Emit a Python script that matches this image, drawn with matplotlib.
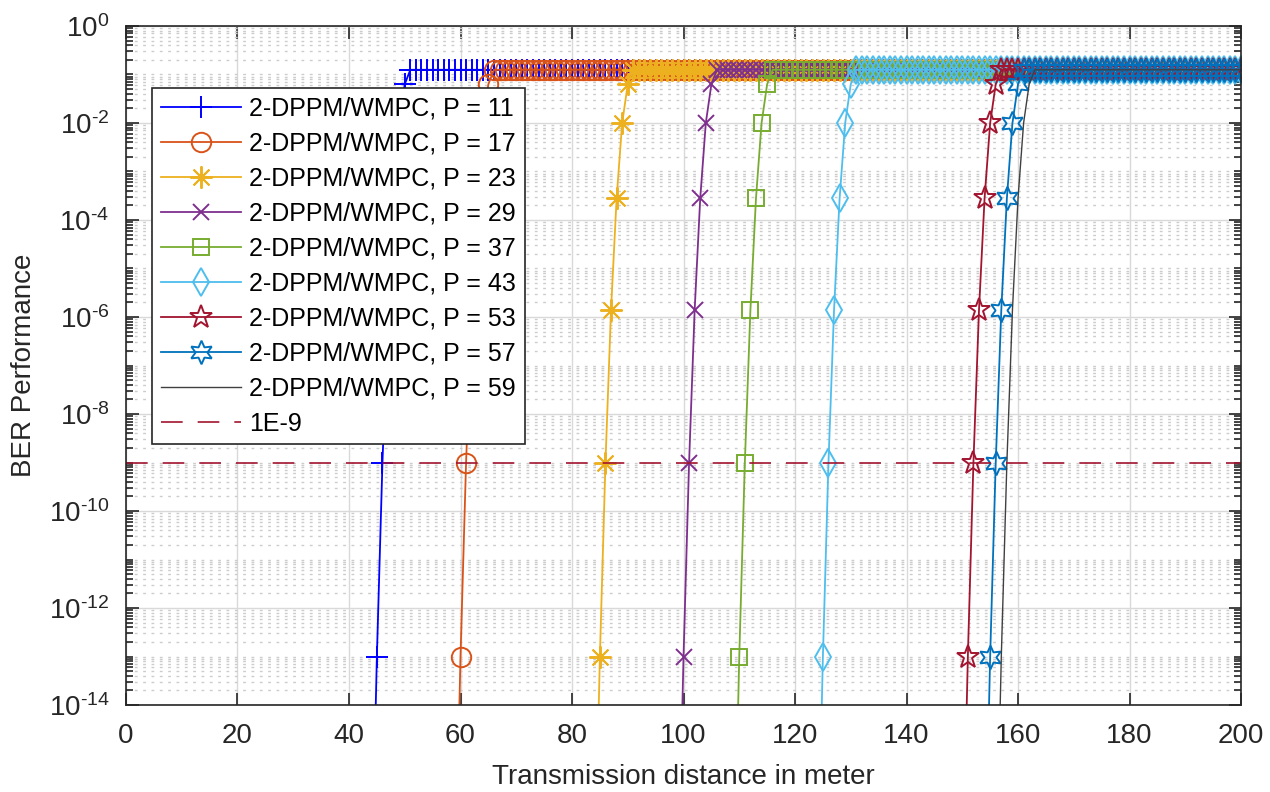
import numpy as np
import matplotlib
matplotlib.use("Agg")
import matplotlib.pyplot as plt
from matplotlib.ticker import FixedLocator, NullFormatter

# --- DATA ---
P_VALUES = [11, 17, 23, 29, 37, 43, 53, 57, 59]
# distance (m) where the BER curve passes 1e-13
ONSET_M = [45, 60, 85, 100, 110, 125, 151, 155, 157]
# log10(BER) at onset-1, onset, onset+1, ... onset+5
PROFILE_LOG = [-18.0, -13.0, -9.0, -5.85, -3.55, -2.0, -1.2]
PLATEAU_BER = 0.125
MAX_DIST = 200
THRESHOLD = 1e-9

# --- STYLE ---
COLORS = ["#0000FF", "#D95319", "#EDB120", "#7E2F8E", "#77AC30",
          "#4DBEEE", "#A2142F", "#0072BD", "#404040"]
MARKERS = ["+", "o", (8, 2, 0), "x", "s", "d", "*", (6, 1, 0), None]
MSIZE = [16, 14, 16, 12, 12, 14, 17, 17, 0]

plt.rcParams["font.family"] = ["Liberation Sans", "DejaVu Sans"]
plt.rcParams["mathtext.fontset"] = "custom"
plt.rcParams["mathtext.rm"] = "Liberation Sans"
plt.rcParams["mathtext.it"] = "Liberation Sans"


def build_series(onset):
    x = list(range(onset - 1, MAX_DIST + 1))
    y = [10 ** v for v in PROFILE_LOG]
    y += [PLATEAU_BER] * (len(x) - len(y))
    return np.array(x), np.array(y)


fig = plt.figure(figsize=(12.7, 7.92), dpi=100)
ax = fig.add_axes([0.0992, 0.1098, 0.878, 0.8574])

for i, p in enumerate(P_VALUES):
    x, y = build_series(ONSET_M[i])
    mk = MARKERS[i]
    ax.plot(x, y, color=COLORS[i], linewidth=1.3 if mk is not None else 1.0,
            marker=mk if mk is not None else "None",
            markersize=MSIZE[i], markerfacecolor="none",
            markeredgewidth=1.4, label=f"2-DPPM/WMPC, P = {p}")

ax.plot([0, MAX_DIST], [THRESHOLD, THRESHOLD], color="#A2142F",
        linewidth=1.2, dashes=(13, 9), label="1E-9")

ax.set_yscale("log")
ax.set_xlim(0, MAX_DIST)
ax.set_ylim(1e-14, 1)

major = [10.0 ** e for e in range(-14, 1, 2)]
ax.yaxis.set_major_locator(FixedLocator(major))
ax.set_yticklabels([f"$10^{{\\text{{{e}}}}}$" for e in range(-14, 1, 2)])
minor = [k * 10.0 ** d for d in range(-14, 0) for k in range(1, 10)
         if not (k == 1 and d % 2 == 0)]
ax.yaxis.set_minor_locator(FixedLocator(minor))
ax.yaxis.set_minor_formatter(NullFormatter())
ax.set_xticks(range(0, MAX_DIST + 1, 20))

ax.tick_params(which="both", direction="in", top=True, right=True,
               colors="#262626", labelsize=20, width=1.2)
ax.tick_params(which="major", length=9)
ax.tick_params(which="minor", length=5)
ax.tick_params(axis="x", pad=13)
ax.tick_params(axis="y", pad=12)

ax.grid(True, which="major", axis="both", color="#d9d9d9", linewidth=1.0, linestyle="-")
ax.grid(True, which="minor", axis="y", color="#cccccc", linewidth=1.0,
        linestyle=(0, (2, 4)))
ax.set_axisbelow(True)
for s in ax.spines.values():
    s.set_color("#262626")
    s.set_linewidth(1.2)

ax.set_xlabel("Transmission distance in meter", fontsize=20, color="#262626",
              labelpad=11)
ax.set_ylabel("BER Performance", fontsize=20, color="#262626", labelpad=8)

leg = ax.legend(loc="upper left", bbox_to_anchor=(0.0233, 0.9087),
                borderaxespad=0, fontsize=18, fancybox=False, framealpha=1,
                edgecolor="#262626", handlelength=3.2, handletextpad=0.35,
                labelspacing=0.44, borderpad=0.35)
leg.get_frame().set_linewidth(1.2)

fig.savefig("out.png", dpi=100)
